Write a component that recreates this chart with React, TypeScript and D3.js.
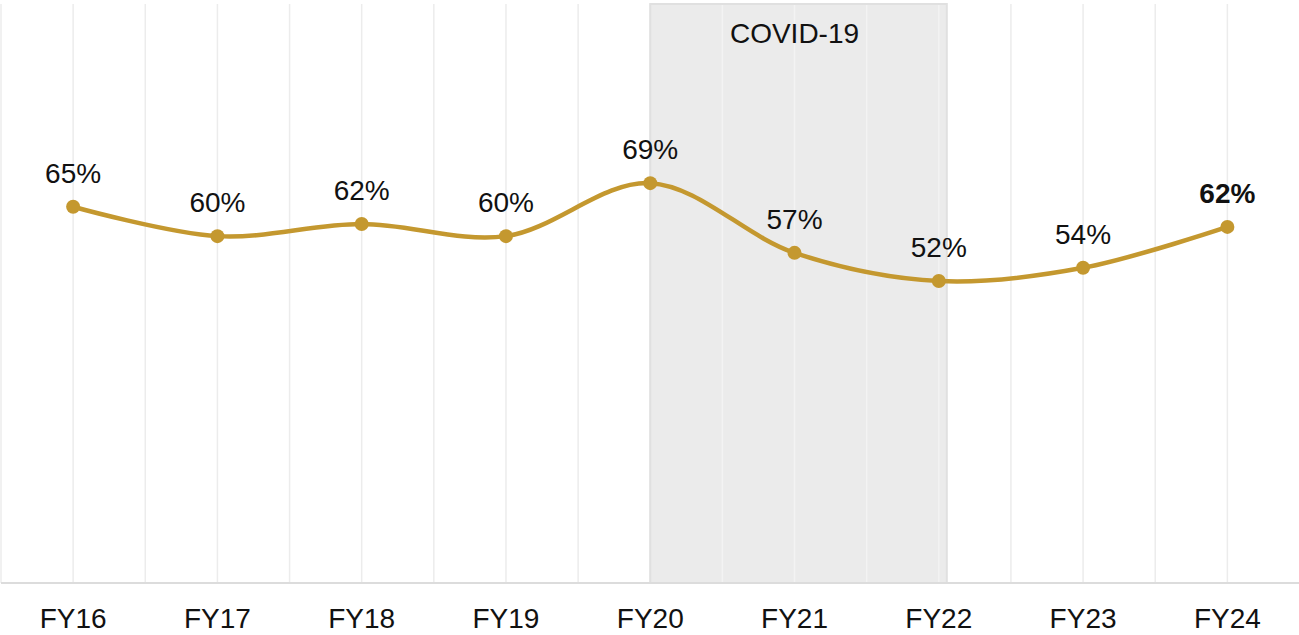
import React from "react";
import * as d3 from "d3";

const categories = ["FY16", "FY17", "FY18", "FY19", "FY20", "FY21", "FY22", "FY23", "FY24"];
const values = [64.8, 59.7, 61.8, 59.7, 68.9, 56.8, 51.9, 54.2, 61.3];
const labels = ["65%", "60%", "62%", "60%", "69%", "57%", "52%", "54%", "62%"];
const covidStart = "FY20";
const covidEnd = "FY22";
const covidLabel = "COVID-19";

const W = 1299;
const H = 635;
const FONT = "'Liberation Sans', Arial, sans-serif";
const GOLD = "#c4982f";

export default function App() {
  const x = d3.scaleBand<string>().domain(categories).range([1, 1299.5]).padding(0);
  const y = d3.scaleLinear().domain([0, 100]).range([580, 4]);
  const cx = (c: string) => (x(c) as number) + x.bandwidth() / 2;
  const half = x.bandwidth() / 2;
  const grid = d3.range(0, categories.length * 2).map((i) => 1 + i * half);

  const line = d3
    .line<number>()
    .x((_, i) => cx(categories[i]))
    .y((d) => y(d))
    .curve(d3.curveCatmullRom.alpha(0.5));

  const rx0 = cx(covidStart);
  const rx1 = cx(covidEnd) + 8;

  return (
    <svg width={W} height={H} style={{ position: "absolute", left: 0, top: 0 }} fontFamily={FONT}>
      <rect x={0} y={0} width={W} height={H} fill="#fff" />
      {grid.map((g, i) => (
        <line key={i} x1={g} x2={g} y1={4} y2={583} stroke="#ececec" strokeWidth={1.5} />
      ))}
      <rect x={rx0} y={4} width={rx1 - rx0} height={579} fill="#ebebeb" stroke="#e0e0e0" strokeWidth={2} />
      {grid
        .filter((g) => g > rx0 + 2 && g < rx1 - 2)
        .map((g, i) => (
          <line key={"c" + i} x1={g} x2={g} y1={5} y2={582} stroke="#f3f3f3" strokeWidth={1.5} />
        ))}
      <text x={(rx0 + cx(covidEnd)) / 2} y={43} textAnchor="middle" fontSize={28} fill="#111">
        {covidLabel}
      </text>
      <line x1={1} x2={W} y1={583} y2={583} stroke="#dcdcdc" strokeWidth={2} />
      <path d={line(values) || ""} fill="none" stroke={GOLD} strokeWidth={4.5} />
      {values.map((v, i) => (
        <g key={i}>
          <circle cx={cx(categories[i])} cy={y(v)} r={7} fill={GOLD} />
          <text
            x={cx(categories[i])}
            y={y(v) - 24}
            textAnchor="middle"
            fontSize={28}
            fontWeight={i === values.length - 1 ? "bold" : "normal"}
            fill="#111"
          >
            {labels[i]}
          </text>
        </g>
      ))}
      {categories.map((c) => (
        <text key={c} x={cx(c)} y={628} textAnchor="middle" fontSize={28} fill="#111">
          {c}
        </text>
      ))}
    </svg>
  );
}
